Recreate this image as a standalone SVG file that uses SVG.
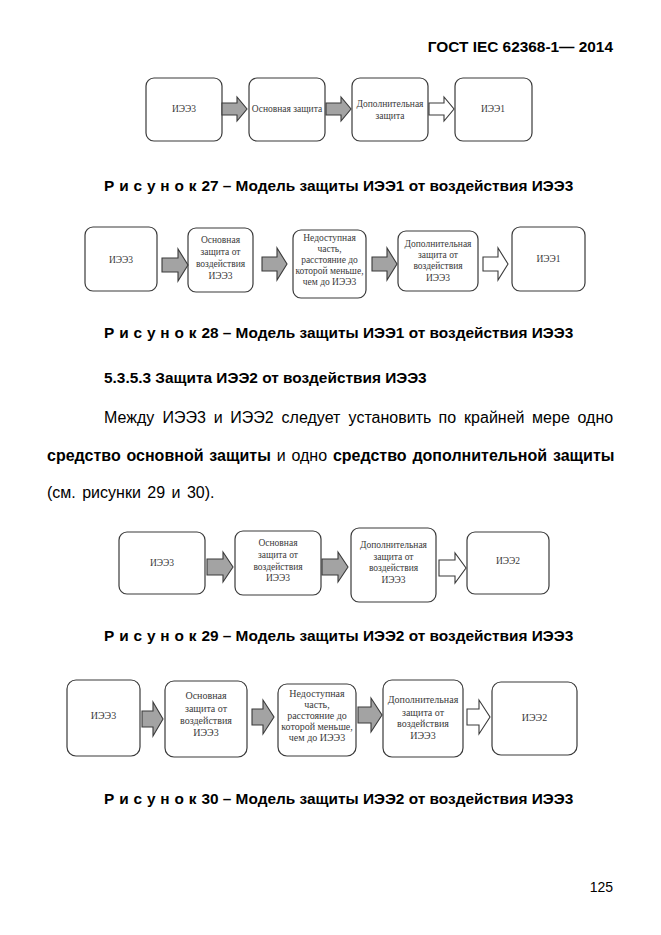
<svg xmlns="http://www.w3.org/2000/svg" width="661" height="935" viewBox="0 0 661 935">
<style>
.bx{fill:#fff;stroke:#3a3a3a;stroke-width:1.2}
.ga{fill:#a3a3a3;stroke:#3a3a3a;stroke-width:1.1}
.wa{fill:#fff;stroke:#3a3a3a;stroke-width:1.1}
.nt{font-family:"Liberation Serif","Times New Roman","DejaVu Serif",serif;font-size:9.5px;fill:#3a3a3a;text-anchor:middle}
.nt2{font-family:"Liberation Serif","Times New Roman","DejaVu Serif",serif;font-size:10px;fill:#3a3a3a;text-anchor:middle}
.hd{font-family:"Liberation Sans",Arial,sans-serif;font-weight:bold;font-size:15.4px;fill:#000}
.pr{font-family:"Liberation Sans",Arial,sans-serif;font-size:16px;fill:#000}
.b{font-weight:bold}
.sp{letter-spacing:0.3px}
</style>
<rect width="661" height="935" fill="#fff"/>
<text class="hd" x="613" y="52" text-anchor="end" font-size="15.8">ГОСТ IEC 62368-1— 2014</text>

<!-- Figure 27 -->
<g id="f27-n1"><rect class="bx" x="146" y="78" width="76" height="63" rx="8"/><text class="nt" x="184" y="112">ИЭЭ3</text></g>
<g id="f27-n2"><rect class="bx" x="249" y="78" width="76" height="63" rx="8"/><text class="nt" x="287" y="112">Основная защита</text></g>
<g id="f27-n3"><rect class="bx" x="352" y="78" width="76" height="63" rx="8"/><text class="nt" x="390" y="107">Дополнительная</text><text class="nt" x="390" y="119">защита</text></g>
<g id="f27-n4"><rect class="bx" x="455" y="78" width="77" height="63" rx="8"/><text class="nt" x="493" y="112">ИЭЭ1</text></g>
<g id="f27-edges">
<path class="ga" d="M222,103H237V97L247,109L237,121V115H222Z"/>
<path class="ga" d="M326,103H341V97L351,109L341,121V115H326Z"/>
<path class="wa" d="M429,103H444V97L454,109L444,121V115H429Z"/>
</g>
<text class="hd" x="104" y="191"><tspan class="sp">Р и с у н о к </tspan>27 – Модель защиты ИЭЭ1 от воздействия ИЭЭ3</text>

<!-- Figure 28 -->
<g id="f28-n1"><rect class="bx" x="85" y="227" width="72" height="64" rx="8"/><text class="nt" x="121" y="263">ИЭЭ3</text></g>
<g id="f28-n2"><rect class="bx" x="188" y="228" width="65" height="64" rx="8"/>
<text class="nt" x="220.5" y="243">Основная</text><text class="nt" x="220.5" y="255">защита от</text><text class="nt" x="220.5" y="267">воздействия</text><text class="nt" x="220.5" y="279">ИЭЭ3</text></g>
<g id="f28-n3"><rect class="bx" x="293" y="230" width="73" height="68" rx="8"/>
<text class="nt" x="329.5" y="241">Недоступная</text><text class="nt" x="329.5" y="252">часть,</text><text class="nt" x="329.5" y="263">расстояние до</text><text class="nt" x="329.5" y="274">которой меньше,</text><text class="nt" x="329.5" y="285">чем до ИЭЭ3</text></g>
<g id="f28-n4"><rect class="bx" x="398" y="231" width="80" height="60" rx="8"/>
<text class="nt" x="438" y="247">Дополнительная</text><text class="nt" x="438" y="258">защита от</text><text class="nt" x="438" y="269">воздействия</text><text class="nt" x="438" y="281">ИЭЭ3</text></g>
<g id="f28-n5"><rect class="bx" x="512" y="227" width="73" height="64" rx="8"/><text class="nt" x="548.5" y="262">ИЭЭ1</text></g>
<g id="f28-edges">
<path class="ga" d="M162,258H178V249L188,265L178,281V272H162Z"/>
<path class="ga" d="M262,257H277V248L287,264L277,280V271H262Z"/>
<path class="ga" d="M372,257H387V248L397,264L387,280V271H372Z"/>
<path class="wa" d="M483,257H498V248L508,264L498,280V271H483Z"/>
</g>
<text class="hd" x="104" y="338"><tspan class="sp">Р и с у н о к </tspan>28 – Модель защиты ИЭЭ1 от воздействия ИЭЭ3</text>

<text class="hd" x="104" y="383">5.3.5.3 Защита ИЭЭ2 от воздействия ИЭЭ3</text>

<text class="pr" y="423"><tspan x="104">Между</tspan><tspan x="162.4">ИЭЭ3</tspan><tspan x="213.7">и</tspan><tspan x="230.3">ИЭЭ2</tspan><tspan x="281.6">следует</tspan><tspan x="348.6">установить</tspan><tspan x="438.6">по</tspan><tspan x="464.1">крайней</tspan><tspan x="532.1">мере</tspan><tspan x="577.5">одно</tspan></text>
<text class="pr" x="47" y="461" word-spacing="1.4"><tspan class="b">средство основной защиты</tspan> и одно <tspan class="b">средство дополнительной защиты</tspan></text>
<text class="pr" x="47" y="498" word-spacing="2">(см. рисунки 29 и 30).</text>

<!-- Figure 29 -->
<g id="f29-n1"><rect class="bx" x="119" y="532" width="86" height="62" rx="8"/><text class="nt" x="162" y="566">ИЭЭ3</text></g>
<g id="f29-n2"><rect class="bx" x="235" y="531" width="86" height="64" rx="8"/>
<text class="nt" x="278" y="546">Основная</text><text class="nt" x="278" y="558">защита от</text><text class="nt" x="278" y="570">воздействия</text><text class="nt" x="278" y="581">ИЭЭ3</text></g>
<g id="f29-n3"><rect class="bx" x="351" y="528" width="85" height="74" rx="8"/>
<text class="nt" x="393.5" y="548">Дополнительная</text><text class="nt" x="393.5" y="560">защита от</text><text class="nt" x="393.5" y="571">воздействия</text><text class="nt" x="393.5" y="583">ИЭЭ3</text></g>
<g id="f29-n4"><rect class="bx" x="467" y="532" width="82" height="62" rx="8"/><text class="nt" x="508" y="564">ИЭЭ2</text></g>
<g id="f29-edges">
<path class="ga" d="M207,559H223V552L233,567L223,582V575H207Z"/>
<path class="ga" d="M322,559H338V552L348,567L338,582V575H322Z"/>
<path class="wa" d="M439,560H455V553L466,568L455,583V576H439Z"/>
</g>
<text class="hd" x="104" y="641"><tspan class="sp">Р и с у н о к </tspan>29 – Модель защиты ИЭЭ2 от воздействия ИЭЭ3</text>

<!-- Figure 30 -->
<g id="f30-n1"><rect class="bx" x="67" y="680" width="73" height="76" rx="9"/><text class="nt2" x="103.5" y="719">ИЭЭ3</text></g>
<g id="f30-n2"><rect class="bx" x="165" y="681" width="82" height="76" rx="9"/>
<text class="nt2" x="206" y="699">Основная</text><text class="nt2" x="206" y="712">защита от</text><text class="nt2" x="206" y="724">воздействия</text><text class="nt2" x="206" y="736">ИЭЭ3</text></g>
<g id="f30-n3"><rect class="bx" x="278" y="684" width="78" height="72" rx="9"/>
<text class="nt2" x="317" y="697">Недоступная</text><text class="nt2" x="317" y="708">часть,</text><text class="nt2" x="317" y="719">расстояние до</text><text class="nt2" x="317" y="730">которой меньше,</text><text class="nt2" x="317" y="741">чем до ИЭЭ3</text></g>
<g id="f30-n4"><rect class="bx" x="383" y="680" width="80" height="77" rx="9"/>
<text class="nt2" x="423" y="703">Дополнительная</text><text class="nt2" x="423" y="716">защита от</text><text class="nt2" x="423" y="727">воздействия</text><text class="nt2" x="423" y="739">ИЭЭ3</text></g>
<g id="f30-n5"><rect class="bx" x="492" y="682" width="85" height="73" rx="9"/><text class="nt2" x="534.5" y="721">ИЭЭ2</text></g>
<g id="f30-edges">
<path class="ga" d="M142,711H153V702L163,719L153,736V727H142Z"/>
<path class="ga" d="M252,709H263V700L274,717L263,734V725H252Z"/>
<path class="ga" d="M358,707H371V698L382,715L371,732V723H358Z"/>
<path class="wa" d="M467,709H479V700L490,717L479,734V725H467Z"/>
</g>
<text class="hd" x="104" y="804"><tspan class="sp">Р и с у н о к </tspan>30 – Модель защиты ИЭЭ2 от воздействия ИЭЭ3</text>

<text x="613" y="892" text-anchor="end" font-family="Liberation Sans, Arial, sans-serif" font-size="14">125</text>
</svg>
